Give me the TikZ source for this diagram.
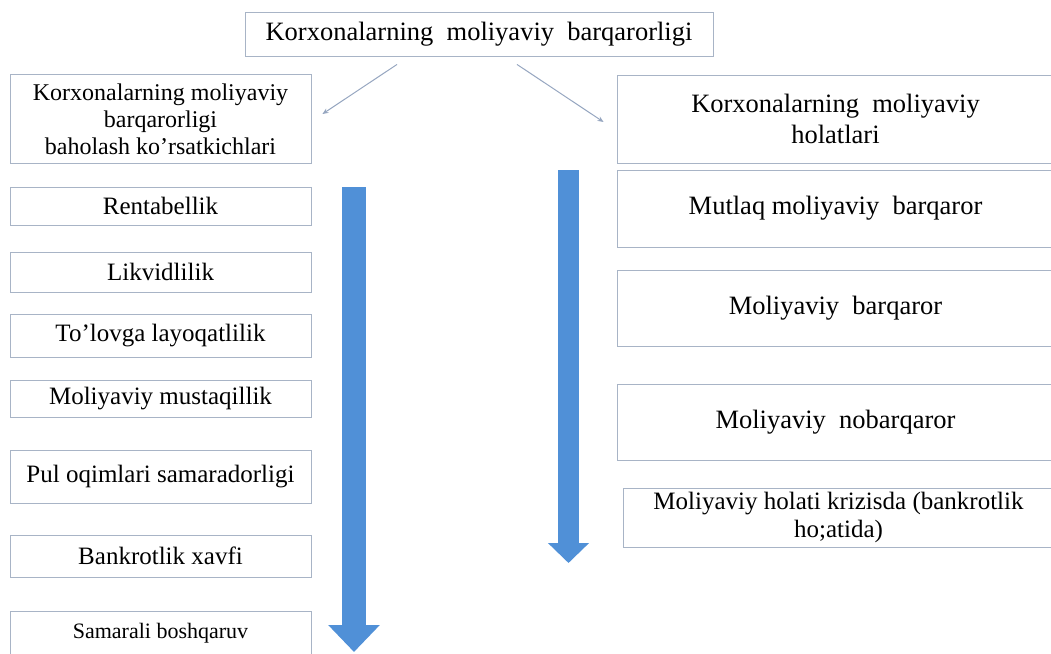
\documentclass[tikz,border=0pt]{standalone}
\usepackage{fontspec}
\setmainfont{Liberation Serif}
\usetikzlibrary{arrows.meta}
\definecolor{boxline}{RGB}{168,180,198}
\definecolor{flowblue}{RGB}{80,144,215}
\definecolor{linkgray}{RGB}{150,166,192}
\begin{document}
\begin{tikzpicture}[x=1pt, y=-1pt,
                    box/.style={draw=boxline, line width=0.9pt, fill=none, inner sep=0pt,
                                align=center, text=black,
                                font=\fontsize{25}{28}\selectfont},
                    lbox/.style={box, minimum width=301pt},
                    rbox/.style={box, minimum width=437pt, font=\fontsize{26.5}{30}\selectfont},
                    link/.style={draw=linkgray, line width=1pt,
                                 -{Stealth[length=6pt,width=5pt]}},
                    flow/.style={draw=flowblue, line width=#1}]
	\useasboundingbox (0,0) rectangle (1051,653);
	% top
	\node[box, minimum width=468pt, minimum height=44pt, font=\fontsize{26.5}{30}\selectfont] (top)
		at (479,34) {Korxonalarning\ \ moliyaviy\ \ barqarorligi};
	% headers
	\node[lbox, minimum height=89pt, font=\fontsize{24}{27}\selectfont] (lhead) at (160.5,119)
		{Korxonalarning moliyaviy\\barqarorligi\\baholash ko’rsatkichlari};
	\node[rbox, minimum height=88pt, font=\fontsize{26.5}{31}\selectfont] (rhead) at (835.5,119)
		{Korxonalarning\ \ moliyaviy\\holatlari};
	\path[link] ([xshift=-82pt,yshift=-8pt]top.south) -- ([xshift=11pt,yshift=5pt]lhead.east);
	\path[link] ([xshift=38pt,yshift=-8pt]top.south) -- ([xshift=-13pt,yshift=-3pt]rhead.west);
	% left column
	\node[lbox, minimum height=38pt] (rent) at (160.5,206) {Rentabellik};
	\node[lbox, minimum height=40pt] (likv) at (160.5,272) {Likvidlilik};
	\node[lbox, minimum height=43pt] (tolov) at (160.5,335.5) {To’lovga layoqatlilik};
	\node[lbox, minimum height=37pt] (must) at (160.5,398.5) {Moliyaviy mustaqillik};
	\node[lbox, minimum height=53pt] (pul) at (160.5,476.5) {Pul oqimlari samaradorligi};
	\node[lbox, minimum height=42pt] (bank) at (160.5,556) {Bankrotlik xavfi};
	\node[lbox, minimum height=44pt, font=\fontsize{22}{26}\selectfont] (boshq) at (160.5,633)
		{Samarali boshqaruv};
	% right column
	\node[rbox, minimum height=77pt] (mutlaq) at (835.5,208.5) {Mutlaq moliyaviy\ \ barqaror};
	\node[rbox, minimum height=76pt] (barq) at (835.5,308) {Moliyaviy\ \ barqaror};
	\node[rbox, minimum height=76pt] (nobarq) at (835.5,422) {Moliyaviy\ \ nobarqaror};
	\node[box, minimum width=431pt, minimum height=59pt] (kriz)
		at (838.5,517.5) {Moliyaviy holati krizisda (bankrotlik\\ho;atida)};
	% big arrows
	\draw[flow=24pt, -{Triangle[length=27pt,width=50pt]}] (354,187) -- (354,652);
	\draw[flow=21pt, -{Triangle[length=20pt,width=40pt]}] (568.5,170) -- (568.5,563);
\end{tikzpicture}
\end{document}
